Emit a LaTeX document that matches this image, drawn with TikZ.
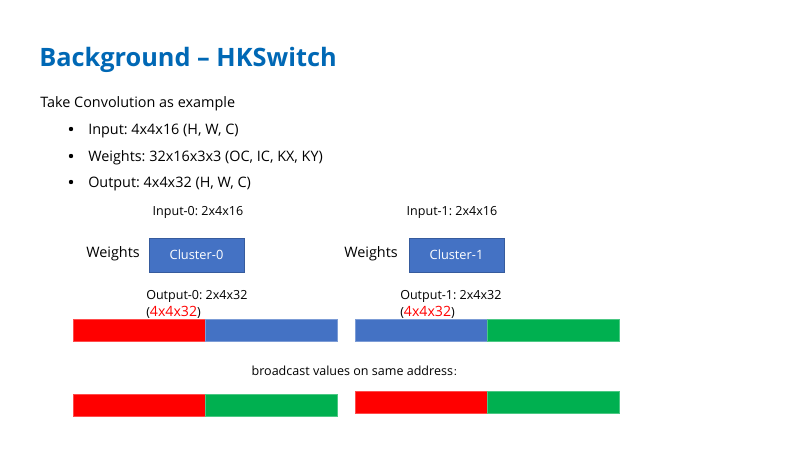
\documentclass[tikz,border=0pt]{standalone}
\usepackage{fontspec}
\setmainfont{Open Sans}
\newfontfamily\cjkfont{Noto Sans CJK SC}
\frenchspacing
\definecolor{titleblue}{HTML}{0068B5}
\definecolor{boxblue}{HTML}{4472C4}
\definecolor{barred}{HTML}{FF0000}
\definecolor{bargreen}{HTML}{00B050}
\begin{document}
\begin{tikzpicture}[x=0.75pt,y=-0.75pt,
  txt/.style={inner sep=0pt,font=\fontsize{10.8pt}{13pt}\selectfont},
  small/.style={inner sep=0pt,font=\fontsize{9.4pt}{11pt}\selectfont},
  cluster/.style={draw=boxblue!80!black,line width=0.5pt,fill=boxblue,text=white,
    minimum width=71.25pt,minimum height=25.5pt,inner sep=0pt,
    font=\fontsize{9.6pt}{11pt}\selectfont},
  seg/.style={line width=0.6pt,minimum width=99pt,minimum height=16.5pt,inner sep=0pt},
  redseg/.style={seg,fill=barred,draw=barred!70!white},
  blueseg/.style={seg,fill=boxblue,draw=boxblue!70!white},
  greenseg/.style={seg,fill=bargreen,draw=bargreen!70!white}]
\useasboundingbox (0,0) rectangle (800,450);
\fill[white] (0,0) rectangle (800,450);

% heading and the list
\node[anchor=base west,inner sep=0pt,text=titleblue,
  font=\fontsize{19pt}{22pt}\selectfont\bfseries] (title) at (39,66) {Background – HKSwitch};
\node[txt,anchor=base west] (intro) at (40,107) {Take Convolution as example};
\node[txt,anchor=base west] (b1) at (88,134) {Input: 4x4x16 (H, W, C)};
\node[txt,anchor=base west] (b2) at (88,161) {Weights: 32x16x3x3 (OC, IC, KX, KY)};
\node[txt,anchor=base west] (b3) at (88,187) {Output: 4x4x32 (H, W, C)};
\foreach \y in {129,156,182}
  \fill (71,\y) circle (2.2);

% cluster 0
\node[small,anchor=base] (in0) at (198,215) {Input-0: 2x4x16};
\node[txt,anchor=base west] (w0) at (86,257) {Weights};
\node[cluster] (c0) at (196.5,255) {Cluster-0};
\node[small,anchor=base west] (out0) at (146,299) {Output-0: 2x4x32};
\node[small,anchor=base west] (out0b) at (146,316) {(\textcolor{barred}{\fontsize{10.6pt}{11pt}\selectfont 4x4x32})};

% cluster 1
\node[small,anchor=base] (in1) at (452,215) {Input-1: 2x4x16};
\node[txt,anchor=base west] (w1) at (344,257) {Weights};
\node[cluster] (c1) at (456.5,255) {Cluster-1};
\node[small,anchor=base west] (out1) at (400,299) {Output-1: 2x4x32};
\node[small,anchor=base west] (out1b) at (400,316) {(\textcolor{barred}{\fontsize{10.6pt}{11pt}\selectfont 4x4x32})};

% output buffers before broadcast
\node[redseg]   (r0a) at (139,330) {};
\node[blueseg]  (r0b) at (271,330) {};
\node[blueseg]  (r1a) at (421,330) {};
\node[greenseg] (r1b) at (553,330) {};

\node[small,anchor=base] (bc) at (357,375) {broadcast values on same address{\cjkfont\fontsize{7pt}{8pt}\selectfont ：}};

% output buffers after broadcast
\node[redseg]   (s0a) at (139,405) {};
\node[greenseg] (s0b) at (271,405) {};
\node[redseg]   (s1a) at (421,402) {};
\node[greenseg] (s1b) at (553,402) {};
\end{tikzpicture}
\end{document}
